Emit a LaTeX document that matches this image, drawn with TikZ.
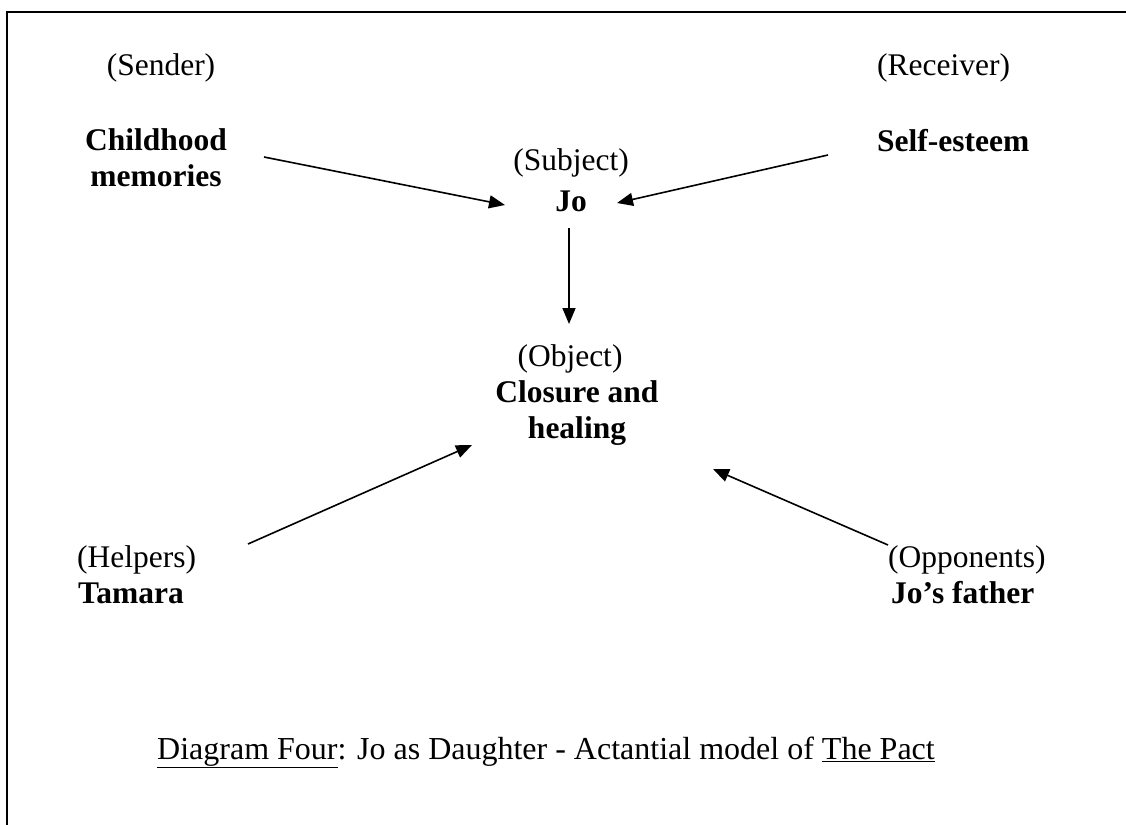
\documentclass[tikz,border=0pt]{standalone}
\usepackage{fontspec}
\setmainfont{Liberation Serif}
\usetikzlibrary{arrows.meta}
\begin{document}
\begin{tikzpicture}[x=1pt,y=-1pt,
  txt/.style={inner sep=0pt, font=\fontsize{31.5}{36}\selectfont},
  role/.style={txt, anchor=base},
  actor/.style={txt, anchor=base, font=\fontsize{31.5}{36}\selectfont\bfseries},
  arr/.style={line width=1.6pt, -{Triangle[length=16pt,width=13pt]}}
]
\useasboundingbox (0,0) rectangle (1126,824);
% open frame running off the page
\draw[line width=2pt] (7,840) -- (7,12) -- (1140,12);

% sender
\node[role]  (sender-role)  at (161,76)  {(Sender)};
\node[actor] (sender-name1) at (156,150) {Childhood};
\node[actor] (sender-name2) at (156,186) {memories};
% receiver
\node[role, anchor=base west]  (receiver-role) at (877,76)  {(Receiver)};
\node[actor, anchor=base west] (receiver-name) at (877,151) {Self-esteem};
% subject
\node[role]  (subject-role) at (571,170) {(Subject)};
\node[actor] (subject-name) at (571,211) {Jo};
% object
\node[role]  (object-role)  at (570,366) {(Object)};
\node[actor] (object-name1) at (577,402) {Closure and};
\node[actor] (object-name2) at (577,438) {healing};
% helpers
\node[role, anchor=base west]  (helper-role) at (77,567) {(Helpers)};
\node[actor, anchor=base west] (helper-name) at (78,603) {Tamara};
% opponents
\node[role, anchor=base west]  (opp-role) at (888,567) {(Opponents)};
\node[actor, anchor=base west] (opp-name) at (891,603) {Jo’s father};
% caption
\node[txt, anchor=base west, font=\fontsize{32}{36}\selectfont] (caption) at (157,759)
  {\underline{Diagram Four}: Jo as Daughter - Actantial model of \underline{The Pact}};

% connector ends
\coordinate (sender-out)   at (264,157);
\coordinate (subject-inL)  at (505,205);
\coordinate (receiver-out) at (828,155);
\coordinate (subject-inR)  at (617,203);
\coordinate (subject-out)  at (569,228);
\coordinate (object-inT)   at (569,324);
\coordinate (helper-out)   at (248,544);
\coordinate (object-inL)   at (472,445);
\coordinate (opp-out)      at (888,545);
\coordinate (object-inR)   at (713,469);

\draw[arr] (sender-out) -- (subject-inL);
\draw[arr] (receiver-out) -- (subject-inR);
\draw[arr] (subject-out) -- (object-inT);
\draw[arr] (helper-out) -- (object-inL);
\draw[arr] (opp-out) -- (object-inR);
\end{tikzpicture}
\end{document}
